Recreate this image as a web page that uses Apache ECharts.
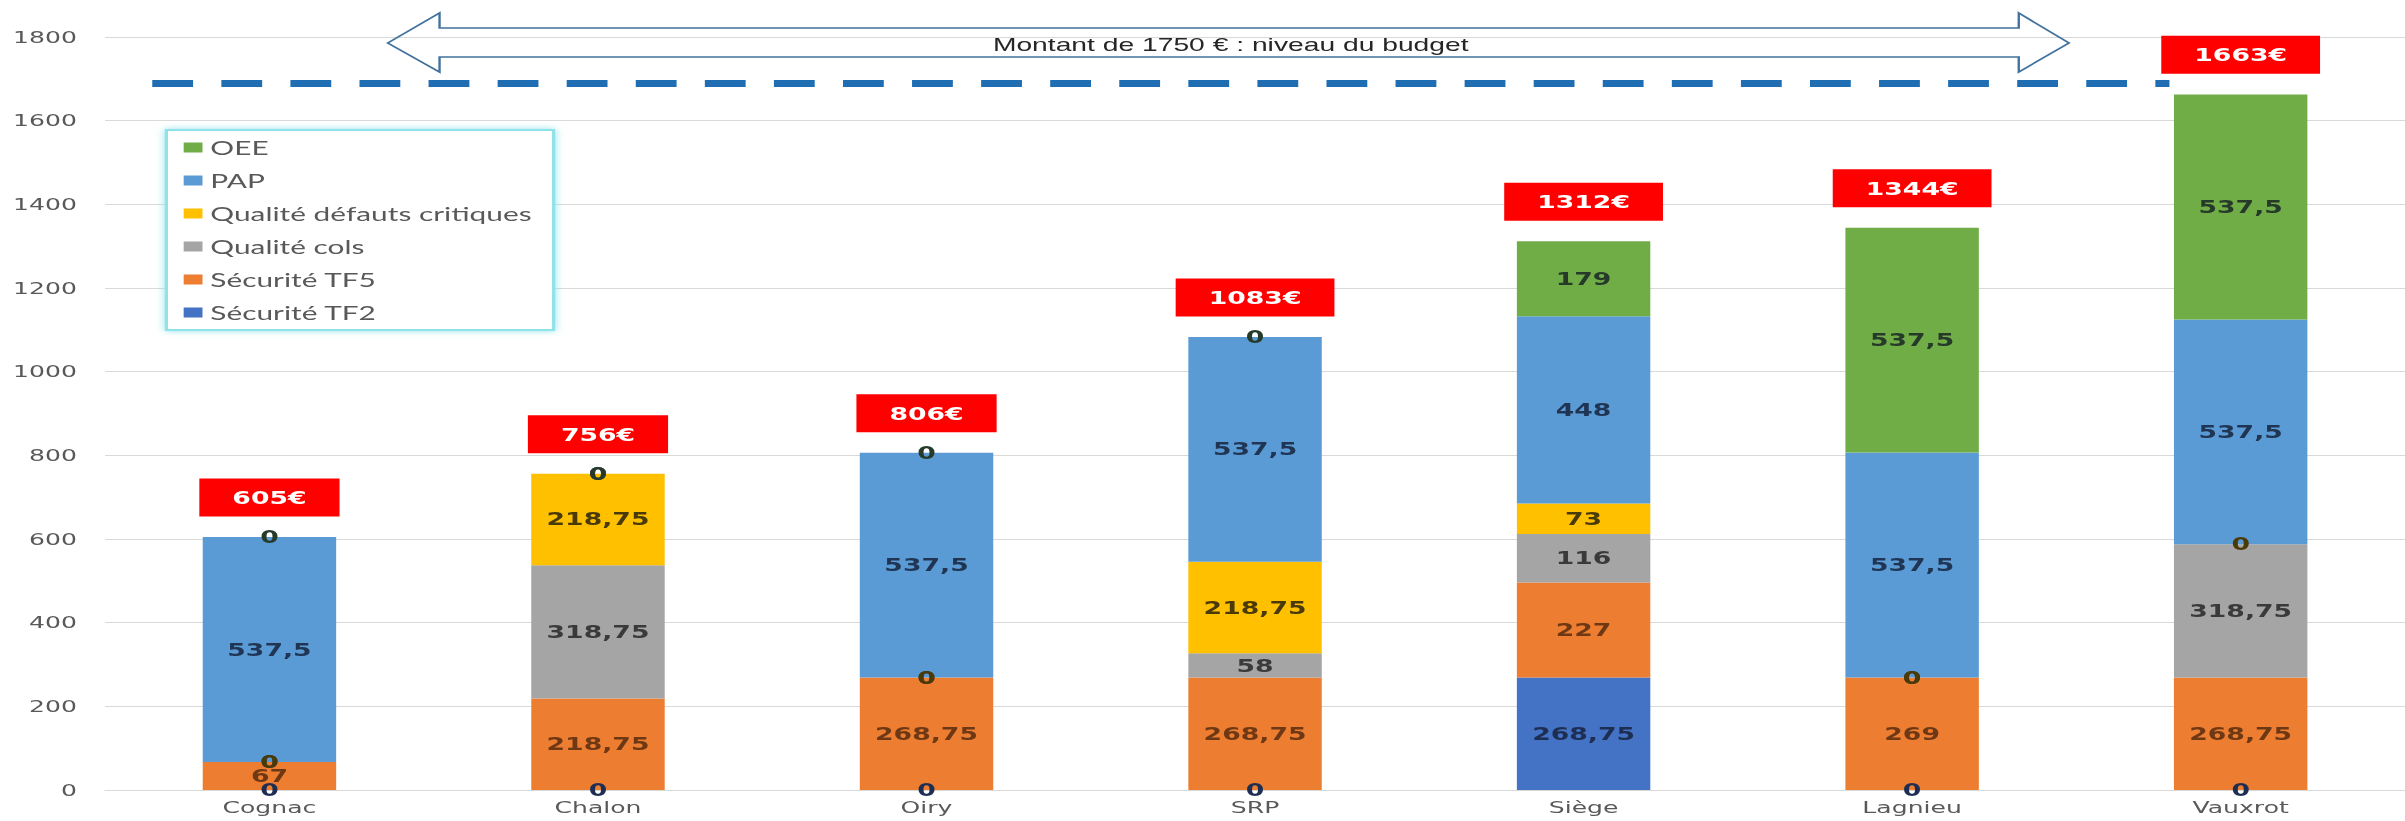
<!DOCTYPE html>
<html>
<head>
<meta charset="utf-8">
<script src="https://cdn.jsdelivr.net/npm/echarts@6/dist/echarts.min.js"></script>
<style>
html, body { margin: 0; padding: 0; overflow: hidden; background: #ffffff; }
#chart { width: 1532px; height: 821px; transform: scaleX(1.5698); transform-origin: 0 0; }
</style>
</head>
<body>
<div id="chart"></div>
<script>
// ---- data ----
const categories = ['Cognac', 'Chalon', 'Oiry', 'SRP', 'Siège', 'Lagnieu', 'Vauxrot'];
const securiteTF2 = [0, 0, 0, 0, 268.75, 0, 0];
const securiteTF5 = [67, 218.75, 268.75, 268.75, 227, 269, 268.75];
const qualiteCols = [0, 318.75, 0, 58, 116, 0, 318.75];
const qualiteDefauts = [0, 218.75, 0, 218.75, 73, 0, 0];
const pap = [537.5, 0, 537.5, 537.5, 448, 537.5, 537.5];
const oee = [0, 0, 0, 0, 179, 537.5, 537.5];
const budgetLevel = 1690;
const budgetText = 'Montant de 1750 € : niveau du budget';
const yTicks = { min: 0, max: 1800, interval: 200 };

const totals = categories.map((c, i) =>
  Math.round(securiteTF2[i] + securiteTF5[i] + qualiteCols[i] + qualiteDefauts[i] + pap[i] + oee[i]));

const fmt = v => String(v).replace('.', ',');

function barSeries(name, values, color, labelColor) {
  return {
    name: name, type: 'bar', stack: 'total', data: values, barWidth: 85,
    itemStyle: { color: color },
    label: {
      show: true, position: 'inside', formatter: p => fmt(p.value),
      fontFamily: 'DejaVu Sans', fontWeight: 'bold', fontSize: 17, color: labelColor
    },
    z: 2
  };
}

const series = [
  barSeries('Sécurité TF2', securiteTF2, '#4472C4', '#1d2e52'),
  barSeries('Sécurité TF5', securiteTF5, '#ED7D31', '#6e3814'),
  barSeries('Qualité cols', qualiteCols, '#A5A5A5', '#3a3a3a'),
  barSeries('Qualité défauts critiques', qualiteDefauts, '#FFC000', '#4a3a08'),
  barSeries('PAP', pap, '#5B9BD5', '#1f3553'),
  barSeries('OEE', oee, '#70AD47', '#263a2a')
];
series[5].markLine = {
  silent: true, symbol: ['none', 'none'],
  label: { show: false },
  lineStyle: { color: '#1F6DB3', width: 7, type: [26, 18], opacity: 1 },
  data: [[{ x: 97, yAxis: budgetLevel }, { x: 1382, yAxis: budgetLevel }]]
};
series.push({
  name: 'Total', type: 'scatter', data: totals, symbolSize: 1,
  itemStyle: { color: 'transparent', opacity: 1 }, z: 5,
  label: {
    show: true, position: 'top', distance: 20, opacity: 1,
    formatter: p => p.value + '€',
    backgroundColor: '#FF0000', color: '#ffffff',
    fontFamily: 'DejaVu Sans', fontWeight: 'bold', fontSize: 17,
    lineHeight: 19, padding: [10, 21, 9, 21]
  }
});

const chart = echarts.init(document.getElementById('chart'), null, { renderer: 'svg' });
chart.setOption({
  animation: false,
  backgroundColor: '#ffffff',
  grid: { left: 67, right: -3, top: 37, bottom: 31, containLabel: false },
  legend: {
    data: ['OEE', 'PAP', 'Qualité défauts critiques', 'Qualité cols', 'Sécurité TF5', 'Sécurité TF2'],
    orient: 'vertical', left: 106, top: 130,
    icon: 'rect', itemWidth: 12, itemHeight: 10, itemGap: 14,
    textStyle: { fontFamily: 'Lato', fontSize: 19, color: '#595959' },
    backgroundColor: '#ffffff', borderColor: '#8fe2ea', borderWidth: 2,
    shadowColor: 'rgba(120,220,230,0.8)', shadowBlur: 6,
    padding: [8, 14, 8, 11], selectedMode: false
  },
  xAxis: {
    type: 'category', data: categories,
    axisLine: { lineStyle: { color: '#d9d9d9' } },
    axisTick: { show: false },
    axisLabel: { fontFamily: 'DejaVu Sans', fontSize: 16, color: '#595959', margin: 9 }
  },
  yAxis: {
    type: 'value', min: yTicks.min, max: yTicks.max, interval: yTicks.interval,
    axisLine: { show: false }, axisTick: { show: false },
    splitLine: { lineStyle: { color: '#d9d9d9', width: 1 } },
    axisLabel: { fontFamily: 'DejaVu Sans', fontSize: 16, color: '#595959', margin: 18, formatter: v => String(v) }
  },
  graphic: [
    {
      type: 'polygon', z: 10, silent: true,
      shape: { points: [[247, 43], [280, 13], [280, 28], [1286, 28], [1286, 13], [1318, 43], [1286, 72], [1286, 57], [280, 57], [280, 72]] },
      style: { fill: 'rgba(255,255,255,0)', stroke: '#41719C', lineWidth: 1.5 }
    },
    {
      type: 'text', z: 11, silent: true, x: 784, y: 45,
      style: {
        text: budgetText, font: '18px "Liberation Sans"', fill: '#262626',
        align: 'center', verticalAlign: 'middle', textAlign: 'center', textVerticalAlign: 'middle'
      }
    }
  ],
  series: series
});
</script>
</body>
</html>
